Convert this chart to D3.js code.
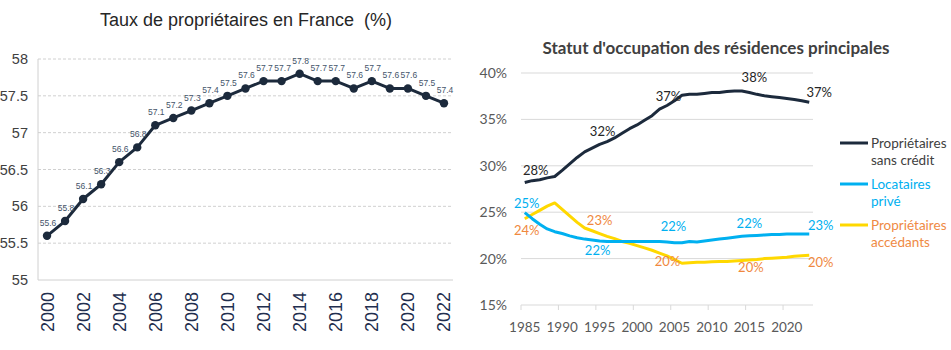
<!DOCTYPE html>
<html>
<head>
<meta charset="utf-8">
<script src="https://cdn.jsdelivr.net/npm/d3@7"></script>
<style>
  body { margin: 0; background: #fff; }
  svg { display: block; }
</style>
</head>
<body>
<div id="chart"></div>
<script>
// Left chart: taux de propriétaires
const leftYears = d3.range(2000, 2023);
const leftValues = [55.6, 55.8, 56.1, 56.3, 56.6, 56.8, 57.1, 57.2, 57.3, 57.4, 57.5, 57.6,
  57.7, 57.7, 57.8, 57.7, 57.7, 57.6, 57.7, 57.6, 57.6, 57.5, 57.4];
const leftYTicks = [55, 55.5, 56, 56.5, 57, 57.5, 58];
const leftXTicks = d3.range(2000, 2023, 2);

// Right chart: statut d'occupation
const rightYears = d3.range(1985, 2024);
const sansCredit = [28.2, 28.4, 28.5, 28.7, 28.85, 29.5, 30.2, 30.9, 31.5, 31.9, 32.3, 32.6, 33.0,
  33.5, 34.0, 34.4, 34.9, 35.4, 36.1, 36.5, 37.0, 37.6, 37.7, 37.7, 37.8, 37.9, 37.9, 38.0, 38.05,
  38.05, 37.9, 37.7, 37.55, 37.45, 37.35, 37.25, 37.15, 37.0, 36.85];
const locatairesPrive = [24.95, 24.3, 23.7, 23.2, 22.9, 22.7, 22.45, 22.25, 22.1, 22.0, 21.9, 21.85,
  21.85, 21.85, 21.85, 21.85, 21.85, 21.85, 21.85, 21.8, 21.7, 21.7, 21.85, 21.8, 21.9, 22.0, 22.1,
  22.2, 22.3, 22.4, 22.45, 22.5, 22.55, 22.6, 22.6, 22.65, 22.65, 22.65, 22.65];
const accedants = [24.3, 24.75, 25.2, 25.65, 26.0, 25.3, 24.6, 23.9, 23.3, 23.0, 22.7, 22.4, 22.15,
  21.85, 21.65, 21.4, 21.15, 20.9, 20.6, 20.3, 19.9, 19.5, 19.55, 19.6, 19.6, 19.65, 19.7, 19.7,
  19.75, 19.8, 19.85, 19.9, 20.0, 20.05, 20.1, 20.15, 20.25, 20.3, 20.35];
const rightYTicks = [15, 20, 25, 30, 35, 40];
const rightXTicks = [1985, 1990, 1995, 2000, 2005, 2010, 2015, 2020];
const labelYears = [1985, 1995, 2005, 2015, 2023];
const sansCreditLabels = ["28%", "32%", "37%", "38%", "37%"];
const locatairesLabels = ["25%", "22%", "22%", "22%", "23%"];
const accedantsLabels = ["24%", "23%", "20%", "20%", "20%"];

const svg = d3.select("#chart").append("svg")
  .attr("width", 951)
  .attr("height", 350);

// ---------- left chart ----------
const lx = d3.scalePoint().domain(leftYears).range([38, 453]).padding(0.5);
const ly = d3.scaleLinear().domain([55, 58]).range([280, 59]);
const left = svg.append("g");

left.append("text")
  .attr("x", 246).attr("y", 26)
  .attr("text-anchor", "middle")
  .style("font-family", "Liberation Sans, Arial, sans-serif")
  .style("font-size", "18px")
  .style("white-space", "pre")
  .attr("fill", "#262626")
  .text("Taux de propriétaires en France  (%)");

left.selectAll(".lgrid")
  .data(leftYTicks.slice(1))
  .join("line")
  .attr("x1", 38).attr("x2", 453)
  .attr("y1", d => ly(d)).attr("y2", d => ly(d))
  .attr("stroke", "#d0d0d0")
  .attr("stroke-dasharray", "3,2");

left.append("line")
  .attr("x1", 38).attr("x2", 453).attr("y1", ly(55)).attr("y2", ly(55))
  .attr("stroke", "#d0d0d0");
left.append("line")
  .attr("x1", 38).attr("x2", 38).attr("y1", ly(58)).attr("y2", ly(55))
  .attr("stroke", "#d0d0d0");

left.selectAll(".lyt")
  .data(leftYTicks)
  .join("text")
  .attr("x", 28).attr("y", d => ly(d))
  .attr("dy", "0.35em")
  .attr("text-anchor", "end")
  .style("font-family", "Liberation Sans, Arial, sans-serif")
  .style("font-size", "14.5px")
  .attr("fill", "#404040")
  .text(d => d);

left.selectAll(".lxt")
  .data(leftXTicks)
  .join("text")
  .attr("transform", d => `translate(${lx(d) + 6.5},292) rotate(-90)`)
  .attr("text-anchor", "end")
  .style("font-family", "Liberation Sans, Arial, sans-serif")
  .style("font-size", "18px")
  .attr("fill", "#1f2f4f")
  .text(d => d);

const leftData = leftYears.map((y, i) => ({ year: y, value: leftValues[i] }));

left.append("path")
  .datum(leftData)
  .attr("fill", "none")
  .attr("stroke", "#1c2a3c")
  .attr("stroke-width", 3)
  .attr("stroke-linejoin", "round")
  .attr("d", d3.line().x(d => lx(d.year)).y(d => ly(d.value)));

left.selectAll(".ldot")
  .data(leftData)
  .join("circle")
  .attr("cx", d => lx(d.year))
  .attr("cy", d => ly(d.value))
  .attr("r", 4.2)
  .attr("fill", "#1c2a3c");

left.selectAll(".llab")
  .data(leftData)
  .join("text")
  .attr("x", d => lx(d.year) + 1)
  .attr("y", d => ly(d.value) - 10)
  .attr("text-anchor", "middle")
  .style("font-family", "Liberation Sans, Arial, sans-serif")
  .style("font-size", "8.5px")
  .attr("fill", "#44546a")
  .text(d => d.value.toFixed(1));

// ---------- right chart ----------
const rx = d3.scaleBand().domain(rightYears).range([521, 813]);
const rc = d => rx(d) + rx.bandwidth() / 2;
const ry = d3.scaleLinear().domain([15, 40]).range([305, 73]);
const right = svg.append("g");
const font = "Lato, 'Open Sans', sans-serif";

right.append("text")
  .attr("x", 716).attr("y", 54)
  .attr("text-anchor", "middle")
  .style("font-family", font)
  .style("font-size", "17px")
  .style("font-weight", "bold")
  .attr("fill", "#404040")
  .text("Statut d'occupation des résidences principales");

right.selectAll(".rgrid")
  .data(rightYTicks)
  .join("line")
  .attr("x1", 521).attr("x2", 813)
  .attr("y1", d => ry(d)).attr("y2", d => ry(d))
  .attr("stroke", "#d9d9d9");

right.selectAll(".rtick")
  .data(rightXTicks)
  .join("line")
  .attr("x1", d => rx(d)).attr("x2", d => rx(d))
  .attr("y1", ry(15)).attr("y2", ry(15) + 5)
  .attr("stroke", "#d9d9d9");

right.selectAll(".ryt")
  .data(rightYTicks)
  .join("text")
  .attr("x", 507).attr("y", d => ry(d))
  .attr("dy", "0.35em")
  .attr("text-anchor", "end")
  .style("font-family", font)
  .style("font-size", "14px")
  .attr("fill", "#595959")
  .text(d => d + "%");

right.selectAll(".rxt")
  .data(rightXTicks)
  .join("text")
  .attr("x", d => rc(d)).attr("y", 332)
  .attr("text-anchor", "middle")
  .style("font-family", font)
  .style("font-size", "13.5px")
  .attr("fill", "#595959")
  .text(d => d);

const series = [
  { name: ["Propriétaires", "sans crédit"], values: sansCredit, color: "#1c2a3c",
    labels: sansCreditLabels, labelColor: "#262626", legendColor: "#404040" },
  { name: ["Locataires", "privé"], values: locatairesPrive, color: "#00b0f0",
    labels: locatairesLabels, labelColor: "#00b0f0", legendColor: "#00b0f0" },
  { name: ["Propriétaires", "accédants"], values: accedants, color: "#ffd800",
    labels: accedantsLabels, labelColor: "#f0883e", legendColor: "#ef8a44" }
];

// label offsets from the data point (layout only)
const labelOffsets = [
  [[11, -12.5], [3, -13], [-6, -4], [5, -15], [10, -9.5]],
  [[2, -9], [-2, 9], [-1, -16], [0, -12], [11.5, -9]],
  [[2, 11.5], [0, -13], [-7, 1.5], [1.5, 7], [11.5, 7]]
];

const rline = d3.line().x(d => rc(d.year)).y(d => ry(d.value));

// draw yellow first, then blue, then dark
[2, 1, 0].forEach(si => {
  const s = series[si];
  right.append("path")
    .datum(rightYears.map((y, i) => ({ year: y, value: s.values[i] })))
    .attr("fill", "none")
    .attr("stroke", s.color)
    .attr("stroke-width", 3)
    .attr("stroke-linejoin", "round")
    .attr("d", rline);
});

series.forEach((s, si) => {
  right.selectAll(".rl" + si)
    .data(labelYears)
    .join("text")
    .attr("x", (d, i) => rc(d) + labelOffsets[si][i][0])
    .attr("y", (d, i) => ry(s.values[rightYears.indexOf(d)]) + labelOffsets[si][i][1])
    .attr("dy", "0.35em")
    .attr("text-anchor", "middle")
    .style("font-family", font)
    .style("font-size", "13px")
    .attr("fill", s.labelColor)
    .text((d, i) => s.labels[i]);
});

// legend
const legendY = [143, 184, 225];
series.forEach((s, si) => {
  const g = right.append("g").attr("transform", `translate(840,${legendY[si]})`);
  g.append("line")
    .attr("x1", 0).attr("x2", 28)
    .attr("stroke", s.color)
    .attr("stroke-width", 3);
  g.selectAll("text")
    .data(s.name)
    .join("text")
    .attr("x", 31)
    .attr("y", (d, i) => i * 17.5)
    .attr("dy", "0.35em")
    .style("font-family", font)
    .style("font-size", "13.5px")
    .attr("fill", s.legendColor)
    .text(d => d);
});
</script>
</body>
</html>
